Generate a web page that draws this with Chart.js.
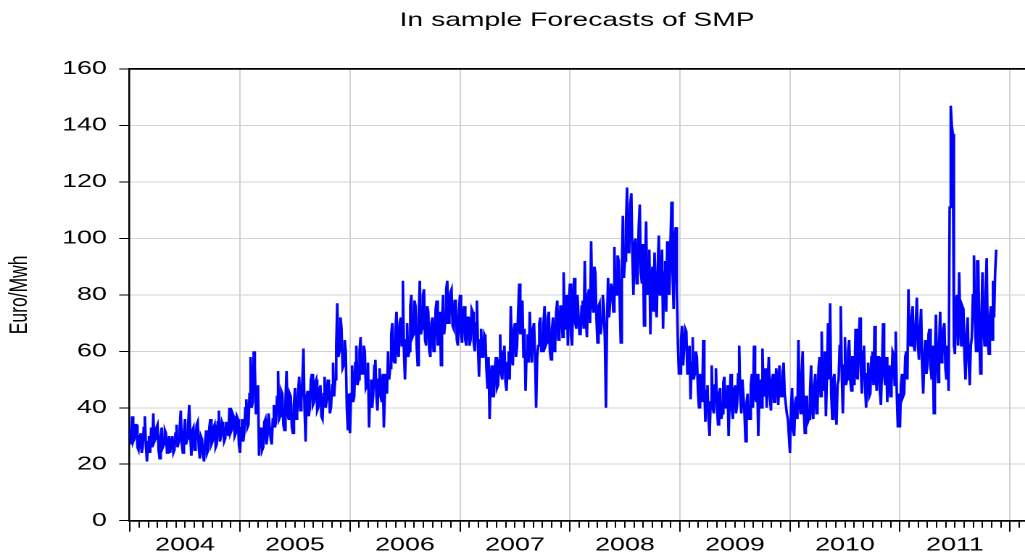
<!DOCTYPE html>
<html>
<head>
<meta charset="utf-8">
<script src="https://cdn.jsdelivr.net/npm/chart.js@4.4.1/dist/chart.umd.min.js"></script>
<style>
html,body{margin:0;padding:0;background:#fff;overflow:hidden;width:1025px;height:558px}
#wrap{width:707px;height:558px;transform:scaleX(1.44979);transform-origin:0 0}
</style>
</head>
<body>
<div id="wrap"><canvas id="c" width="707" height="558"></canvas></div>
<script>
// ---- data (half-weekly readings, Euro/Mwh) ----
const years = [2004, 2005, 2006, 2007, 2008, 2009, 2010, 2011];
const yearLabels = ['2004', '2005', '2006', '2007', '2008', '2009', '2010', '2011'];
const yTickValues = [0, 20, 40, 60, 80, 100, 120, 140, 160];

const smp2004 = [33,27,37,28,29,34,34,26,25,30,31,24,26,33,37,27,21,28,30,24,33,26,38,28,29,33,34,25,22,30,33,26,27,32,31,24,26,30,24,29,30,24,25,31,34,26,28,33,39,27,24,31,36,27,29,34,41,30,23,32,33,25,28,34,35,26,22,30,29,23,21,28,32,24,25,33,36,27,28,33,34,26,27,35,39,28,30,35,34,28,29,35,35,30,40,31,32,38,37,30,31,37,36,27];
const smp2005 = [24,33,36,28,31,40,43,33,34,45,58,40,42,60,55,38,38,48,23,31,33,25,26,35,36,27,30,38,38,29,27,36,41,33,35,44,53,36,37,46,45,34,32,42,53,38,36,45,44,33,31,41,47,36,38,46,51,39,42,50,61,40,28,44,46,37,40,50,52,41,42,49,50,39,40,47,48,37,36,45,51,40,43,50,47,38,40,48,56,44,50,62,77,58,60,72,68,54,55,64,60,40,32,45];
const smp2006 = [31,45,55,42,44,56,62,48,50,60,65,52,52,62,60,47,48,56,33,45,50,40,45,55,57,44,39,50,54,44,42,52,33,46,52,45,60,50,54,66,70,57,56,68,74,60,58,70,72,62,85,60,50,64,70,58,60,76,80,65,66,78,76,62,55,72,85,66,68,80,82,64,62,76,74,60,58,70,72,60,62,75,78,62,64,74,55,70,80,66,70,82,85,70,72,81,82,69,68,78,78,64,62,74];
const smp2007 = [80,66,63,74,76,64,62,72,72,62,64,75,74,63,60,70,78,62,51,64,68,58,58,66,65,54,47,58,36,50,55,44,44,54,58,47,48,57,66,52,50,60,62,49,46,56,60,50,76,58,55,68,70,58,62,74,84,66,68,78,58,68,46,60,66,56,74,62,56,68,70,58,40,58,62,70,72,60,60,70,76,62,63,72,74,60,57,68,72,60,62,74,78,64,66,76,76,65,88,70,68,80,62,78];
const smp2008 = [84,66,62,78,86,70,68,80,80,66,66,76,78,68,92,72,65,80,82,70,99,78,74,90,88,72,63,76,77,66,70,80,76,64,40,70,86,72,72,84,82,74,97,80,80,94,92,78,63,88,108,86,92,106,118,95,96,112,116,94,80,98,100,84,86,104,112,88,84,98,69,90,106,80,82,96,66,86,90,74,95,76,72,90,101,80,84,96,68,88,92,74,99,82,80,98,113,88,75,100,104,82,63,52];
const smp2009 = [52,64,69,55,55,68,67,52,53,62,43,56,65,50,52,60,58,46,40,52,50,42,64,48,35,46,48,36,30,42,55,40,38,48,54,40,34,45,47,36,38,49,51,40,40,48,30,44,52,40,36,47,48,38,41,52,62,44,38,50,50,38,28,42,45,36,36,48,52,40,62,45,42,52,30,44,50,40,61,46,44,54,40,50,58,44,39,50,52,42,42,54,50,41,55,44,44,52,56,45,45,38,36,30];
const smp2010 = [24,40,47,32,30,42,44,36,64,42,38,52,60,40,31,44,44,35,36,46,55,40,36,48,52,38,40,54,58,44,67,46,48,60,37,52,70,50,77,45,36,50,52,40,34,48,50,62,76,52,38,55,65,48,50,60,64,50,46,58,58,48,68,52,50,64,72,54,45,60,62,48,40,52,56,44,45,58,60,48,69,52,46,58,58,46,41,54,70,52,48,58,42,52,55,44,48,60,59,48,67,45,33,45];
const smp2011 = [33,48,52,44,45,58,60,50,82,64,62,72,76,62,60,70,79,62,57,68,75,55,45,58,64,52,55,66,68,54,50,62,38,55,73,56,49,62,74,56,58,68,70,54,50,62,46,111,147,140,137,62,59,78,80,62,88,70,62,76,75,58,50,66,72,56,48,62,65,80,94,70,60,92,92,66,52,70,88,68,62,80,93,64,59,72,76,64,85,72,88,96];

const seriesByYear = [smp2004, smp2005, smp2006, smp2007, smp2008, smp2009, smp2010, smp2011];
const points = [];
seriesByYear.forEach((arr, k) => arr.forEach((v, i) => points.push({x: years[k] + i / 104, y: v})));

const X_MIN = 2003.9937, X_MAX = 2012.137;
const monthTicks = [];
for (let m = 0; m <= 97; m++) monthTicks.push(years[0] + m / 12);
const monthIdx = v => Math.round((v - years[0]) * 12);
const isYearTick = c => c.tick && monthIdx(c.tick.value) % 12 === 0;

Chart.defaults.font.family = "'Liberation Sans', Arial, sans-serif";
Chart.defaults.color = '#000';

new Chart(document.getElementById('c'), {
  type: 'line',
  data: {
    datasets: [{
      data: points,
      borderColor: '#0000ff',
      borderWidth: 1.8,
      pointRadius: 0,
      tension: 0,
      fill: false
    }]
  },
  options: {
    responsive: false,
    animation: false,
    devicePixelRatio: 2,
    layout: {padding: 0},
    plugins: {
      legend: {display: false},
      tooltip: {enabled: false},
      title: {
        display: true,
        text: 'In sample Forecasts of SMP',
        fullSize: false,
        color: '#000',
        font: {size: 19.5, weight: 'normal'},
        padding: {top: 9, bottom: 36.6}
      }
    },
    scales: {
      x: {
        type: 'linear',
        position: 'bottom',
        min: X_MIN,
        max: X_MAX,
        afterBuildTicks: s => { s.ticks = monthTicks.map(v => ({value: v})); },
        afterFit: s => { s.height = 37.3; },
        ticks: {
          autoSkip: false,
          maxRotation: 0,
          minRotation: 0,
          padding: 2.5,
          color: '#000',
          font: {size: 18.5},
          callback: v => {
            const m = monthIdx(v);
            return (m % 12 === 6 && yearLabels[Math.floor(m / 12)]) ? yearLabels[Math.floor(m / 12)] : '';
          }
        },
        grid: {
          color: c => isYearTick(c) ? '#d2d2d2' : 'rgba(0,0,0,0)',
          lineWidth: 1,
          tickLength: 11,
          tickColor: '#000',
          tickWidth: 1,
          tickBorderDash: c => isYearTick(c) ? [] : [6, 30]
        },
        border: {display: true, color: '#000', width: 1.7}
      },
      x2: {
        type: 'linear',
        position: 'top',
        min: X_MIN,
        max: X_MAX,
        ticks: {display: false},
        grid: {display: false, drawTicks: false},
        border: {display: true, color: '#000', width: 1.7},
        afterFit: s => { s.height = 0; }
      },
      y: {
        min: 0,
        max: 160,
        afterBuildTicks: s => { s.ticks = yTickValues.map(v => ({value: v})); },
        afterFit: s => { s.width = 89.19; },
        ticks: {color: '#000', font: {size: 18.5}, padding: 8.5},
        grid: {color: '#d2d2d2', lineWidth: 1, tickColor: '#000', tickLength: 7},
        border: {display: true, color: '#000', width: 1.2},
        title: {
          display: true,
          text: 'Euro/Mwh',
          color: '#000',
          font: {size: 17.5},
          padding: {top: 3.4, bottom: 0}
        }
      }
    }
  }
});
</script>
</body>
</html>
